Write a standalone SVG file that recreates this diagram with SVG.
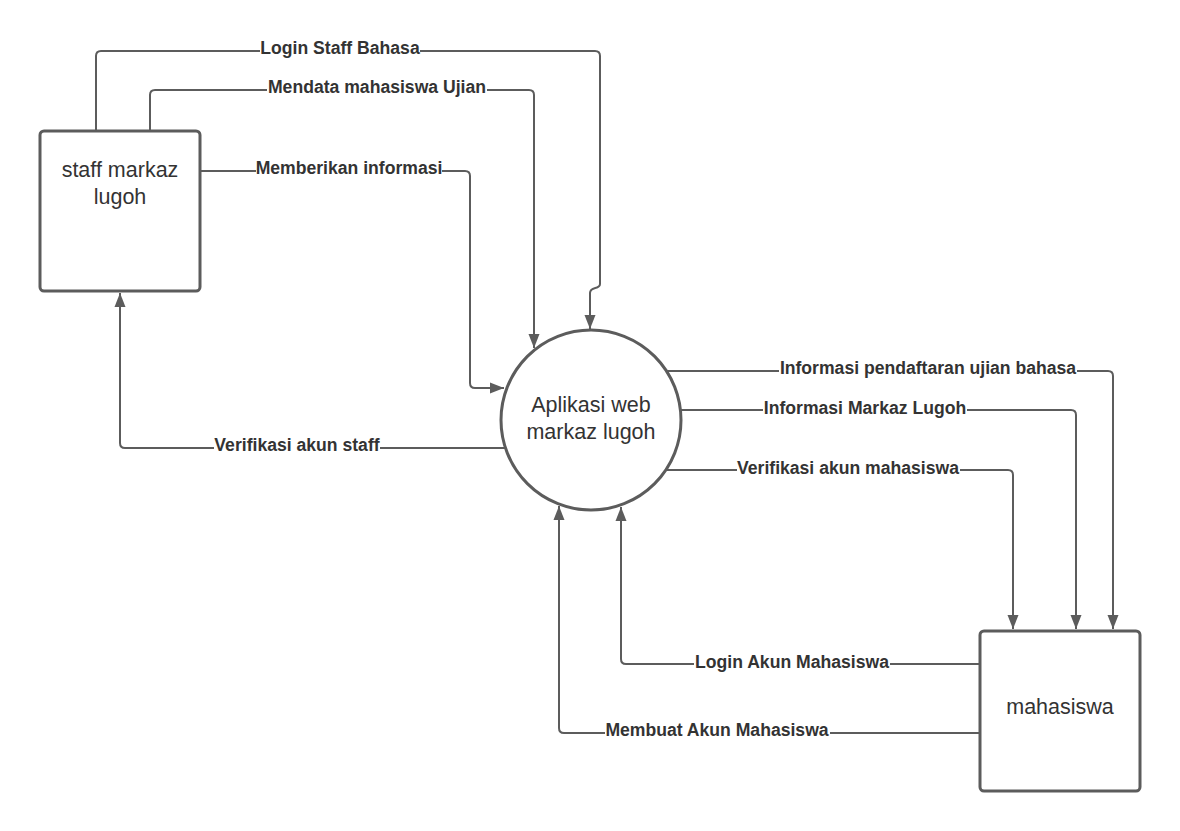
<svg xmlns="http://www.w3.org/2000/svg" width="1180" height="831" viewBox="0 0 1180 831">
<style>
.node{fill:#fff;stroke:#5c5c5c;stroke-width:3}
.ntxt{font-family:"Liberation Sans",Arial,sans-serif;font-size:21.5px;fill:#333;text-anchor:middle}
.edge{fill:none;stroke:#5c5c5c;stroke-width:2}
.bg{fill:#fff}
.lbl{font-family:"Liberation Sans",Arial,sans-serif;font-size:17.6px;font-weight:bold;fill:#333;text-anchor:middle}
</style>
<defs>
<marker id="arr" viewBox="0 0 14 12" refX="14" refY="6" markerWidth="14" markerHeight="12" markerUnits="userSpaceOnUse" orient="auto">
<path d="M0,0.5 L14,6 L0,11.5 z" fill="#5c5c5c"/>
</marker>
</defs>
<rect width="1180" height="831" fill="#fff"/>
<g id="connectors">
<path class="edge" marker-end="url(#arr)" d="M96,131 V56 Q96,51 101,51 H595 Q600,51 600,56 V284 C600,290 590,286 590,293 V329"/>
<path class="edge" marker-end="url(#arr)" d="M150,131 V95 Q150,90 155,90 H529 Q534,90 534,95 V348"/>
<path class="edge" marker-end="url(#arr)" d="M200,171 H465 Q470,171 470,176 V383 Q470,388 475,388 H504"/>
<path class="edge" marker-end="url(#arr)" d="M505,448 H125 Q120,448 120,443 V293"/>
<path class="edge" marker-end="url(#arr)" d="M667,371 H1108 Q1113,371 1113,376 V629"/>
<path class="edge" marker-end="url(#arr)" d="M681,410 H1071 Q1076,410 1076,415 V629"/>
<path class="edge" marker-end="url(#arr)" d="M667,470 H1008 Q1013,470 1013,475 V629"/>
<path class="edge" marker-end="url(#arr)" d="M980,664 H626 Q621,664 621,659 V507"/>
<path class="edge" marker-end="url(#arr)" d="M980,733 H564 Q559,733 559,728 V506"/>
<rect class="bg" x="260" y="40" width="160" height="18"/>
<rect class="bg" x="267" y="79" width="220" height="18"/>
<rect class="bg" x="256" y="160" width="186" height="18"/>
<rect class="bg" x="214" y="437" width="166" height="18"/>
<rect class="bg" x="779" y="360" width="298" height="18"/>
<rect class="bg" x="763" y="400" width="204" height="18"/>
<rect class="bg" x="737" y="460" width="223" height="18"/>
<rect class="bg" x="694" y="654" width="196" height="18"/>
<rect class="bg" x="605" y="722" width="225" height="18"/>
<text class="lbl" x="340" y="54">Login Staff Bahasa</text>
<text class="lbl" x="377" y="93">Mendata mahasiswa Ujian</text>
<text class="lbl" x="349" y="174">Memberikan informasi</text>
<text class="lbl" x="297" y="451">Verifikasi akun staff</text>
<text class="lbl" x="928" y="374">Informasi pendaftaran ujian bahasa</text>
<text class="lbl" x="865" y="414">Informasi Markaz Lugoh</text>
<text class="lbl" x="848" y="474">Verifikasi akun mahasiswa</text>
<text class="lbl" x="792" y="668">Login Akun Mahasiswa</text>
<text class="lbl" x="717" y="736">Membuat Akun Mahasiswa</text>
</g>
<g id="staff">
<rect class="node" x="40" y="131" width="160" height="160" rx="4"/>
<text class="ntxt" x="120" y="177">staff markaz</text>
<text class="ntxt" x="120" y="204">lugoh</text>
</g>
<g id="aplikasi">
<circle class="node" cx="591" cy="420" r="90"/>
<text class="ntxt" x="591" y="412">Aplikasi web</text>
<text class="ntxt" x="591" y="439">markaz lugoh</text>
</g>
<g id="mahasiswa">
<rect class="node" x="980" y="631" width="160" height="160" rx="4"/>
<text class="ntxt" x="1060" y="714">mahasiswa</text>
</g>
</svg>
